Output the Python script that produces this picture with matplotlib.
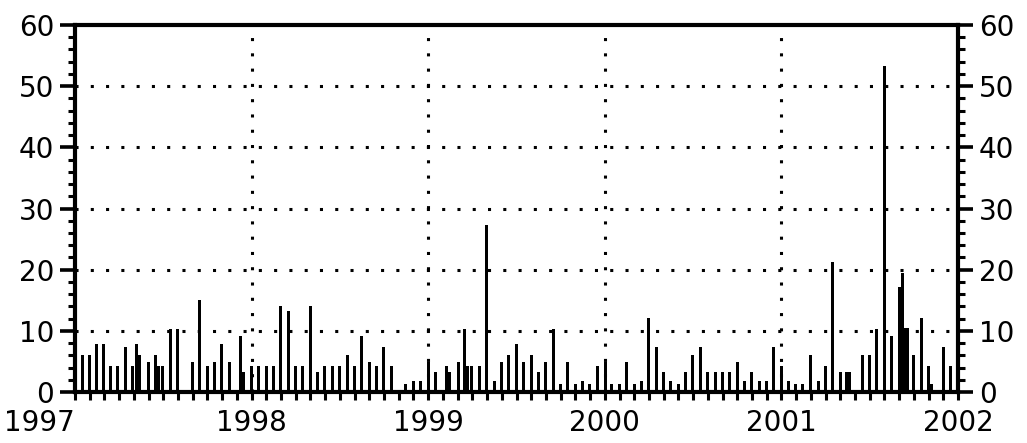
import matplotlib
matplotlib.use("Agg")
import matplotlib.pyplot as plt
from matplotlib.ticker import MultipleLocator, FixedLocator
import numpy as np

# bar positions (decimal year) and heights
when = [1997.040, 1997.080, 1997.119, 1997.162, 1997.202, 1997.241, 1997.287,
        1997.326, 1997.349, 1997.366, 1997.414, 1997.454, 1997.473, 1997.493,
        1997.539, 1997.578, 1997.663, 1997.703, 1997.748, 1997.788, 1997.830,
        1997.873, 1997.935, 1997.952, 1997.997,
        1998.037, 1998.082, 1998.122, 1998.161, 1998.207, 1998.246, 1998.286,
        1998.331, 1998.371, 1998.411, 1998.456, 1998.496, 1998.541, 1998.580,
        1998.620, 1998.665, 1998.705, 1998.745, 1998.790, 1998.869, 1998.915,
        1998.954, 1998.999,
        1999.039, 1999.101, 1999.118, 1999.169, 1999.203, 1999.220, 1999.243,
        1999.288, 1999.328, 1999.373, 1999.413, 1999.452, 1999.498, 1999.537,
        1999.583, 1999.622, 1999.662, 1999.707, 1999.747, 1999.787, 1999.832,
        1999.871, 1999.911, 1999.956,
        2000.002, 2000.036, 2000.081, 2000.121, 2000.166, 2000.206, 2000.245,
        2000.291, 2000.330, 2000.370, 2000.415, 2000.455, 2000.494, 2000.540,
        2000.579, 2000.625, 2000.664, 2000.704, 2000.749, 2000.789, 2000.828,
        2000.874, 2000.913, 2000.953, 2000.998,
        2001.038, 2001.078, 2001.117, 2001.163, 2001.208, 2001.247, 2001.287,
        2001.332, 2001.366, 2001.383, 2001.457, 2001.497, 2001.536, 2001.582,
        2001.621, 2001.666, 2001.683, 2001.700, 2001.712, 2001.746, 2001.791,
        2001.831, 2001.848, 2001.916, 2001.955]

vals = [6.1, 6.1, 7.9, 7.9, 4.3, 4.3, 7.4,
        4.3, 7.9, 6.1, 4.9, 6.1, 4.3, 4.3,
        10.3, 10.3, 4.9, 15.1, 4.3, 4.9, 7.9,
        4.9, 9.2, 3.2, 4.3,
        4.3, 4.3, 4.3, 14.0, 13.3, 4.3, 4.3,
        14.0, 3.2, 4.3, 4.3, 4.3, 6.1, 4.3,
        9.2, 4.9, 4.3, 7.4, 4.3, 1.3, 1.8,
        1.8, 4.9,
        3.2, 4.3, 3.2, 4.9, 10.3, 4.3, 4.3,
        4.3, 27.3, 1.8, 4.9, 6.1, 7.9, 4.9,
        6.1, 3.2, 4.9, 10.3, 1.3, 4.9, 1.3,
        1.8, 1.3, 4.3,
        4.9, 1.3, 1.3, 4.9, 1.3, 1.8, 12.1,
        7.4, 3.2, 1.8, 1.3, 3.2, 6.1, 7.4,
        3.2, 3.2, 3.2, 3.2, 4.9, 1.8, 3.2,
        1.8, 1.8, 7.4, 4.3,
        1.8, 1.3, 1.3, 6.1, 1.8, 4.3, 21.3,
        3.2, 3.2, 3.2, 6.1, 6.1, 10.3, 53.3,
        9.2, 17.1, 19.5, 10.5, 10.5, 6.1, 12.1,
        4.3, 1.3, 7.4, 4.3]

years = [1997, 1998, 1999, 2000, 2001, 2002]
year_labels = ["1997", "1998", "1999", "2000", "2001", "2002"]
yticks = [0, 10, 20, 30, 40, 50, 60]

W, H = 1027, 443
fig = plt.figure(figsize=(W/100, H/100), dpi=100)
ax = fig.add_axes([75/W, 1 - 392/H, (958 - 75)/W, (392 - 25)/H])

ax.bar(when, vals, width=0.017, color="black", linewidth=0, zorder=3)

ax.set_xlim(1997, 2002)
ax.set_ylim(0, 60)

# dotted grid
for yy in yticks[1:-1]:
    ax.axhline(yy, color="black", lw=2.2, ls=(0, (1, 4)), zorder=1)
for xx in years[1:-1]:
    ax.axvline(xx, color="black", lw=2.2, ls=(0, (1, 4)), zorder=1)

for s in ax.spines.values():
    s.set_linewidth(3)
    s.set_zorder(5)

ax.set_xticks(years)
ax.set_xticklabels(year_labels)
ax.xaxis.set_minor_locator(FixedLocator(1997 + np.arange(61)/12))
ax.set_yticks(yticks)
ax.yaxis.set_minor_locator(MultipleLocator(2))

ax.tick_params(axis="x", which="both", direction="out", length=6, width=2.2,
               labelsize=20, pad=6)
ax.tick_params(axis="y", which="major", direction="out", length=11, width=2.6,
               left=True, right=True, labelleft=True, labelright=True,
               labelsize=20, pad=4)
ax.tick_params(axis="y", which="minor", direction="out", length=5, width=2.2,
               left=True, right=True)

# first year label sits left of the axis in the original
lbls = ax.get_xticklabels()
lbls[0].set_horizontalalignment("right")

fig.savefig("out.png", dpi=100)
